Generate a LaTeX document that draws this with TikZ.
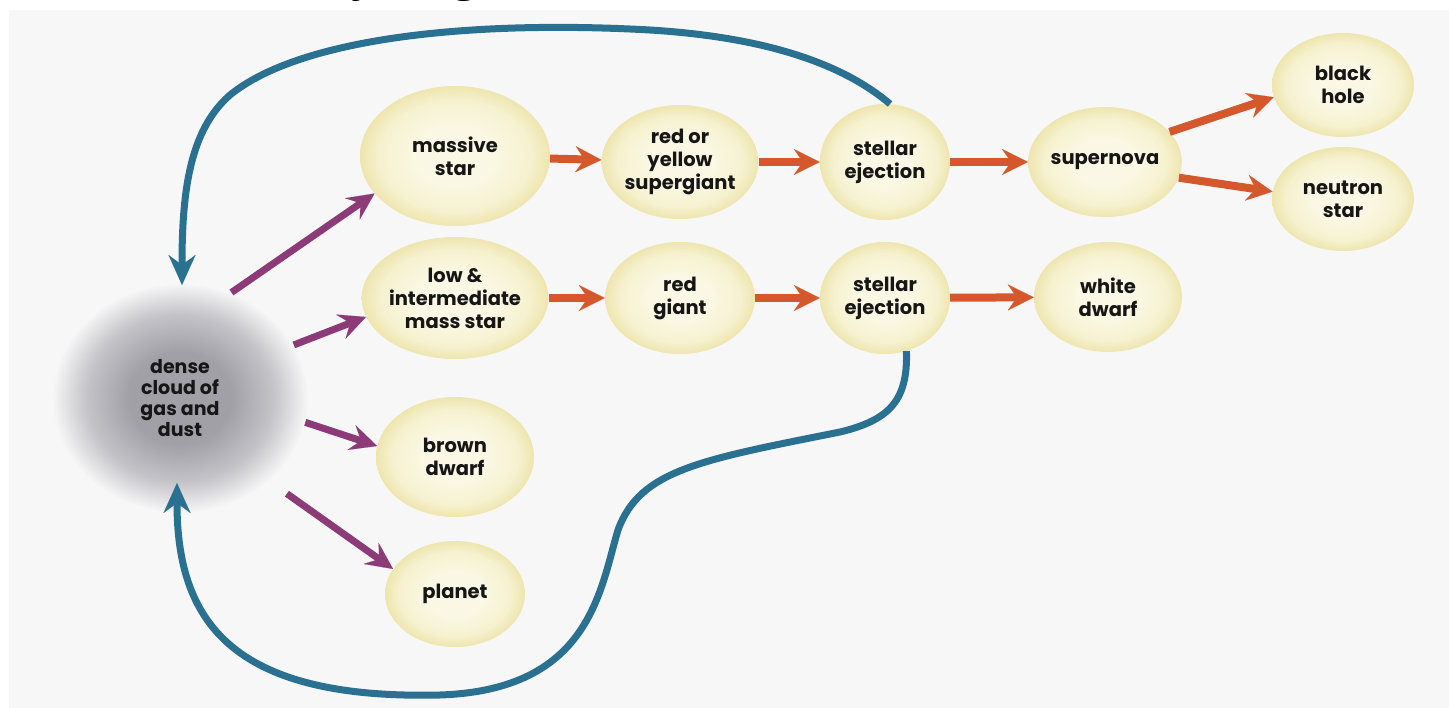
\documentclass[tikz,border=0pt]{standalone}
\usepackage{fontspec}
\setmainfont{Poppins}
\newfontfamily\titlefont{Open Sans}
\usetikzlibrary{arrows.meta,shapes.geometric}

\definecolor{panelbg}{HTML}{F7F7F7}
\definecolor{ink}{HTML}{161616}
\definecolor{starin}{HTML}{FAF8E4}
\definecolor{starmid}{HTML}{F6F1CF}
\definecolor{starrim}{HTML}{EEE5AE}
\definecolor{cloudin}{HTML}{A0A0A6}
\definecolor{cloudmid}{HTML}{C2C2C7}
\definecolor{rust}{HTML}{D4582B}
\definecolor{plum}{HTML}{8C3B78}
\definecolor{seablue}{HTML}{2A7191}

\pgfdeclareradialshading{starglow}{\pgfpoint{0bp}{0bp}}{color(0bp)=(starin); color(10bp)=(starin); color(20bp)=(starmid); color(25bp)=(starrim); color(50bp)=(starrim)}
\pgfdeclareradialshading{cloudglow}{\pgfpoint{0bp}{0bp}}{color(0bp)=(cloudin); color(10bp)=(cloudin); color(18bp)=(cloudmid); color(25bp)=(panelbg); color(50bp)=(panelbg)}

\begin{document}
\begin{tikzpicture}[x=1pt, y=-1pt,
  stage/.style 2 args={ellipse, shading=starglow, inner sep=0pt, minimum width=#1pt, minimum height=#2pt, align=center, text=ink, font=\bfseries\fontsize{19.5}{23}\selectfont},
  cloudblob/.style={ellipse, shading=cloudglow, inner sep=0pt, minimum width=256pt, minimum height=230pt, align=center, text=ink, font=\bfseries\fontsize{19}{21}\selectfont},
  feed/.style={draw=plum, line width=7pt, -{Stealth[length=27pt,width=26pt,inset=10pt,line width=0.1pt]}},
  evolve/.style={draw=rust, line width=8pt, -{Stealth[length=26pt,width=26pt,inset=9pt,line width=0.1pt]}},
  recycle/.style={draw=seablue, line width=7pt, -{Stealth[length=30pt,width=27pt,inset=10pt,line width=0.1pt]}}]
\useasboundingbox (0,0) rectangle (1449,708);
\fill[white] (0,0) rectangle (1449,708);
\fill[panelbg] (9,10) rectangle (1449,708);
\node[anchor=base west, inner sep=0pt, font=\titlefont\fontsize{46}{50}\selectfont] (heading) at (352,-9) {y diagram\hspace{15pt}(\hspace{139pt})};

% where it starts
\node[cloudblob] (cloud) at (180,398) {dense\\cloud of\\gas and\\dust};

% massive stars
\node[stage={190}{140}] (massive) at (455,156) {massive\\star};
\node[stage={148}{114}] (supergiant) at (680,162) {red or\\yellow\\supergiant};
\node[stage={130}{116}] (ejectA) at (885,162) {stellar\\ejection};
\node[stage={142}{110}] (supernova) at (1105,162) {supernova};
\node[stage={142}{104}] (blackhole) at (1343,85) {black\\hole};
\node[stage={142}{104}] (neutron) at (1343,199) {neutron\\star};

% low and intermediate mass stars
\node[stage={182}{122}] (lowmass) at (455,298) {low \&\\intermediate\\mass star};
\node[stage={150}{112}] (redgiant) at (680,298) {red\\giant};
\node[stage={130}{112}] (ejectB) at (885,298) {stellar\\ejection};
\node[stage={148}{110}] (whitedwarf) at (1108,297) {white\\dwarf};

% the rest
\node[stage={158}{120}] (browndwarf) at (455,457) {brown\\dwarf};
\node[stage={140}{106}] (planet) at (455,594) {planet};

\coordinate (cloudtop) at (182,285);
\coordinate (cloudbot) at (177,483);

\draw[feed] (cloud.64) -- (massive.205);
\draw[feed] (cloud.25) -- (lowmass.192);
\draw[feed] (cloud.-11) -- (browndwarf.172);
\draw[feed, shorten <=22pt] (cloud.-43) -- (planet.158);

\draw[evolve] (massive) -- (supergiant);
\draw[evolve] (supergiant) -- (ejectA);
\draw[evolve] (ejectA) -- (supernova);
\draw[evolve] (supernova.25) -- (blackhole.190);
\draw[evolve] (supernova.-12) -- (neutron.174);
\draw[evolve] (lowmass) -- (redgiant);
\draw[evolve] (redgiant) -- (ejectB);
\draw[evolve] (ejectB) -- (whitedwarf);

\draw[recycle] (ejectA.85) .. controls (850,70) and (780,38) .. (650,30) .. controls (470,20) and (300,38) .. (230,95) .. controls (190,130) and (182,190) .. (cloudtop);
\draw[recycle] (ejectB.-68) .. controls (908,400) and (890,420) .. (840,432) .. controls (700,460) and (640,470) .. (618,530) .. controls (600,590) and (590,690) .. (440,695) .. controls (230,700) and (177,620) .. (cloudbot);
\end{tikzpicture}
\end{document}
